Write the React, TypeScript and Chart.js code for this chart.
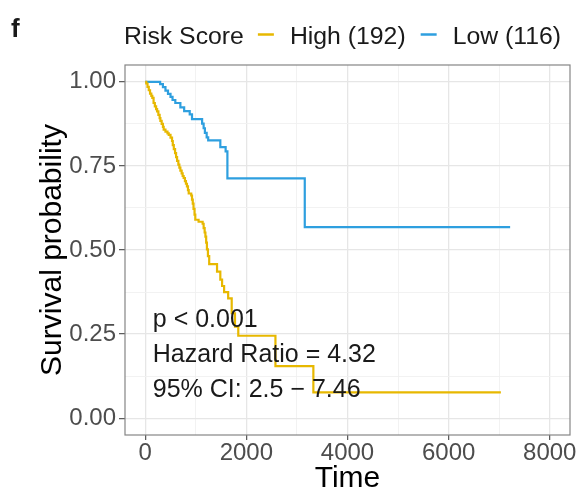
import { useEffect, useRef } from "react";
import { Chart, registerables } from "chart.js";

Chart.register(...registerables);

const FONT = '"Liberation Sans", Arial, Helvetica, sans-serif';

// Kaplan–Meier estimates: event times (days) and survival after each event
const highTime = [
  0, 20, 45, 70, 95, 120, 140, 165, 190, 215, 235, 260, 285, 300, 325, 350, 365,
  400, 440, 465, 500, 530, 545, 565, 590, 610, 630, 655, 675, 695, 720, 740, 760,
  785, 805, 825, 845, 860, 910, 925, 940, 955, 975, 990, 1055, 1135, 1155, 1175,
  1190, 1205, 1220, 1240, 1265, 1420, 1485, 1520, 1560, 1640, 1710, 1775, 1840,
  2575, 3325, 7033,
];
const highSurv = [
  1.0, 0.995, 0.985, 0.975, 0.965, 0.958, 0.952, 0.937, 0.927, 0.919, 0.912,
  0.902, 0.892, 0.884, 0.875, 0.866, 0.858, 0.852, 0.847, 0.842, 0.834, 0.824,
  0.812, 0.8, 0.788, 0.776, 0.765, 0.754, 0.745, 0.736, 0.728, 0.72, 0.714,
  0.705, 0.697, 0.689, 0.678, 0.668, 0.662, 0.65, 0.638, 0.622, 0.605, 0.59,
  0.584, 0.578, 0.565, 0.552, 0.54, 0.522, 0.502, 0.482, 0.458, 0.436, 0.412,
  0.393, 0.375, 0.356, 0.312, 0.272, 0.245, 0.155, 0.077, 0.077,
];

const lowTime = [
  0, 295, 350, 400, 450, 500, 540, 595, 695, 770, 880, 925, 1125, 1155, 1180,
  1215, 1245, 1485, 1590, 1625, 3155, 7216,
];
const lowSurv = [
  1.0, 0.993, 0.984, 0.974, 0.964, 0.955, 0.946, 0.937, 0.924, 0.913, 0.903,
  0.889, 0.876, 0.862, 0.848, 0.835, 0.826, 0.806, 0.793, 0.713, 0.568, 0.568,
];

const seriesNames = ["High (192)", "Low (116)"];
const seriesColors = ["#E7B800", "#2E9FDF"];
const legendTitle = "Risk Score";
const panelTag = "f";

const xTicks = [0, 1000, 2000, 3000, 4000, 5000, 6000, 7000, 8000];
const yTicks = [0, 0.125, 0.25, 0.375, 0.5, 0.625, 0.75, 0.875, 1];
const xLimits = [-400, 8400];
const yLimits = [-0.05, 1.05];

const statLines = ["p < 0.001", "Hazard Ratio = 4.32", "95% CI: 2.5 \u2212 7.46"];
const statX = 150;
const statY = [0.271, 0.167, 0.063];

const isMajorX = (v: number) => Math.abs(v % 2000) < 1e-6;
const isMajorY = (v: number) => Math.abs((v / 0.25) - Math.round(v / 0.25)) < 1e-6;

const toPoints = (t: number[], s: number[]) => t.map((x, i) => ({ x, y: s[i] }));

const panelFrame = {
  id: "panelFrame",
  afterDatasetsDraw(chart: any) {
    const { ctx, chartArea: a } = chart;
    ctx.save();
    ctx.strokeStyle = "#858585";
    ctx.lineWidth = 1.2;
    ctx.strokeRect(a.left, a.top, a.right - a.left, a.bottom - a.top);
    ctx.restore();
  },
};

const overlayText = {
  id: "overlayText",
  afterDraw(chart: any) {
    const { ctx } = chart;
    const xs = chart.scales.x;
    const ys = chart.scales.y;
    ctx.save();
    ctx.textBaseline = "alphabetic";
    ctx.textAlign = "left";

    // statistics block inside the panel
    ctx.fillStyle = "#1a1a1a";
    ctx.font = `25px ${FONT}`;
    statLines.forEach((line, i) => {
      ctx.fillText(line, xs.getPixelForValue(statX), ys.getPixelForValue(statY[i]));
    });

    // panel tag
    ctx.font = `bold 26px ${FONT}`;
    ctx.fillText(panelTag, 11, 37);

    // legend row
    ctx.font = `24.8px ${FONT}`;
    const baseY = 44;
    const keyY = 34.5;
    let cx = 124;
    ctx.fillText(legendTitle, cx, baseY);
    cx += ctx.measureText(legendTitle).width + 14;
    seriesNames.forEach((name, i) => {
      ctx.strokeStyle = seriesColors[i];
      ctx.lineWidth = 2.5;
      ctx.beginPath();
      ctx.moveTo(cx, keyY);
      ctx.lineTo(cx + 16, keyY);
      ctx.stroke();
      cx += 16 + 16;
      ctx.fillText(name, cx, baseY);
      cx += ctx.measureText(name).width + 15;
    });
    ctx.restore();
  },
};

export default function App() {
  const canvasRef = useRef<HTMLCanvasElement | null>(null);

  useEffect(() => {
    const canvas = canvasRef.current;
    if (!canvas) return;
    const chart = new Chart(canvas, {
      type: "line",
      data: {
        datasets: [
          {
            label: seriesNames[0],
            data: toPoints(highTime, highSurv),
            borderColor: seriesColors[0],
            borderWidth: 2.2,
            stepped: "before",
            pointRadius: 0,
            fill: false,
          },
          {
            label: seriesNames[1],
            data: toPoints(lowTime, lowSurv),
            borderColor: seriesColors[1],
            borderWidth: 2.2,
            stepped: "before",
            pointRadius: 0,
            fill: false,
          },
        ],
      },
      options: {
        responsive: false,
        animation: false,
        layout: { padding: { top: 65, right: 11, bottom: 0, left: 0 } },
        plugins: { legend: { display: false }, tooltip: { enabled: false } },
        scales: {
          x: {
            type: "linear",
            min: xLimits[0],
            max: xLimits[1],
            afterBuildTicks: (s: any) => {
              s.ticks = xTicks.map((value) => ({ value }));
            },
            afterFit: (s: any) => {
              s.height = 62;
            },
            border: { display: false },
            grid: {
              color: (c: any) => (isMajorX(c.tick?.value ?? 0) ? "#e6e6e6" : "#f1f1f1"),
              lineWidth: (c: any) => (isMajorX(c.tick?.value ?? 0) ? 1.3 : 0.9),
              tickColor: (c: any) => (isMajorX(c.tick?.value ?? 0) ? "#555555" : "rgba(0,0,0,0)"),
              tickWidth: 1.2,
              tickLength: 5,
            },
            ticks: {
              autoSkip: false,
              maxRotation: 0,
              padding: 1,
              color: "#4d4d4d",
              font: { family: FONT, size: 24, lineHeight: 1 },
              callback: (v: any) => (isMajorX(Number(v)) ? String(v) : ""),
            },
            title: {
              display: true,
              text: "Time",
              color: "#000000",
              font: { family: FONT, size: 30 },
              padding: { top: 0, bottom: 0 },
            },
          },
          y: {
            type: "linear",
            min: yLimits[0],
            max: yLimits[1],
            afterBuildTicks: (s: any) => {
              s.ticks = yTicks.map((value) => ({ value }));
            },
            afterFit: (s: any) => {
              s.width = 125;
            },
            border: { display: false },
            grid: {
              color: (c: any) => (isMajorY(c.tick?.value ?? 0) ? "#e6e6e6" : "#f1f1f1"),
              lineWidth: (c: any) => (isMajorY(c.tick?.value ?? 0) ? 1.3 : 0.9),
              tickColor: (c: any) => (isMajorY(c.tick?.value ?? 0) ? "#555555" : "rgba(0,0,0,0)"),
              tickWidth: 1.2,
              tickLength: 6,
            },
            ticks: {
              autoSkip: false,
              padding: 3,
              color: "#4d4d4d",
              font: { family: FONT, size: 24, lineHeight: 1 },
              callback: (v: any) => (isMajorY(Number(v)) ? Number(v).toFixed(2) : ""),
            },
            title: {
              display: true,
              text: "Survival probability",
              color: "#000000",
              font: { family: FONT, size: 30 },
              padding: { top: 35, bottom: 0 },
            },
          },
        },
      },
      plugins: [panelFrame, overlayText],
    });
    return () => chart.destroy();
  }, []);

  return (
    <div style={{ position: "absolute", left: 0, top: 0, width: 581, height: 497, background: "#ffffff" }}>
      <canvas ref={canvasRef} width={581} height={497} style={{ display: "block" }} />
    </div>
  );
}
